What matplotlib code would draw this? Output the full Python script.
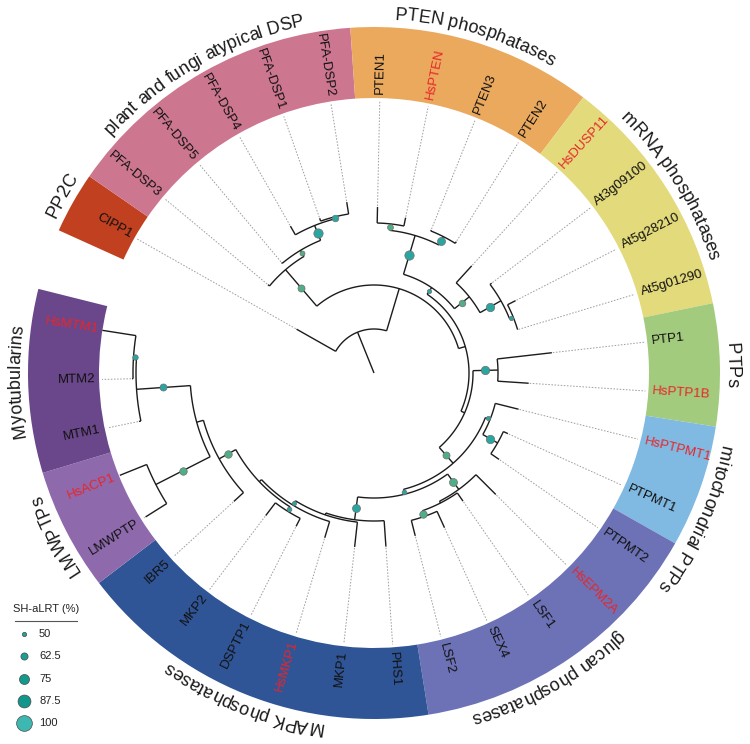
import numpy as np
import matplotlib
matplotlib.use("Agg")
import matplotlib.pyplot as plt
from matplotlib.font_manager import FontProperties, findfont, get_font

# ---------------- data ----------------
leaf_names = ["CIPP1", "PFA-DSP3", "PFA-DSP5", "PFA-DSP4", "PFA-DSP1", "PFA-DSP2",
              "PTEN1", "HsPTEN", "PTEN3", "PTEN2",
              "HsDUSP11", "At3g09100", "At5g28210", "At5g01290",
              "PTP1", "HsPTP1B", "HsPTPMT1", "PTPMT1", "PTPMT2",
              "HsEPM2A", "LSF1", "SEX4", "LSF2",
              "PHS1", "MKP1", "HsMKP1", "DSPTP1", "MKP2", "IBR5",
              "LMWPTP", "HsACP1", "MTM1", "MTM2", "HsMTM1"]
human_leaves = ["HsPTEN", "HsDUSP11", "HsPTP1B", "HsPTPMT1", "HsEPM2A",
                "HsMKP1", "HsACP1", "HsMTM1"]
leaf_depth = [89, 138, 144, 169, 164, 173,
              166, 158.5, 154, 155,
              145, 148, 159, 150,
              179, 155, 149, 147, 152,
              172, 156, 170, 168,
              174, 175, 172, 172, 179, 190,
              270, 274, 240, 242, 275]

node_names = ["root", "B", "P", "Q", "R", "S", "N2", "T", "PTEN", "V1", "V2",
              "W", "X", "Y", "N1", "U", "MG", "M1", "M2", "GK", "G1", "Gy", "G3",
              "K1", "K2", "K3", "K5", "K4", "IL", "ML", "LMW", "Mt1", "Mt2"]
node_children = [["CIPP1", "B"], ["P", "N2"], ["PFA-DSP3", "Q"], ["PFA-DSP5", "R"],
                 ["PFA-DSP4", "S"], ["PFA-DSP1", "PFA-DSP2"], ["T", "N1"],
                 ["PTEN", "W"], ["V1", "V2"], ["PTEN1", "HsPTEN"], ["PTEN3", "PTEN2"],
                 ["HsDUSP11", "X"], ["At3g09100", "Y"], ["At5g28210", "At5g01290"],
                 ["U", "MG"], ["PTP1", "HsPTP1B"], ["M1", "GK"], ["HsPTPMT1", "M2"],
                 ["PTPMT1", "PTPMT2"], ["G1", "K1"], ["HsEPM2A", "Gy"], ["LSF1", "G3"],
                 ["SEX4", "LSF2"], ["PHS1", "K2"], ["MKP1", "K3"], ["HsMKP1", "K5"],
                 ["K4", "IL"], ["DSPTP1", "MKP2"], ["ML", "IBR5"], ["Mt1", "LMW"],
                 ["LMWPTP", "HsACP1"], ["MTM1", "Mt2"], ["MTM2", "HsMTM1"]]
node_depth = [44, 88, 136, 143, 159, 161, 95, 103, 143.5, 150, 153,
              122, 146, 150, 99, 124, 120, 125, 142, 125, 144, 146, 152,
              148, 150, 155, 158, 163, 177, 184, 245, 238, 241]
node_shalrt = [None, None, 62, 53, 72, 60, None, 50, 72, 57, 66,
               60, 68, 50, None, 68, 62, 50, 68, 52, 66, None, 64,
               66, None, 50, None, 52, 64, None, 64, 62, 55]
node_dot_group = ["", "", "g", "g", "t", "t", "", "t", "t", "g", "t",
                  "g", "t", "t", "", "t", "g", "t", "t", "t", "g", "", "g",
                  "t", "", "t", "", "t", "g", "", "g", "t", "t"]
dot_colors = {"g": "#4fae86", "t": "#2aa6a0"}

clade_names = ["PP2C", "plant and fungi atypical DSP", "PTEN phosphatases",
               "mRNA phosphatases", "PTPs", "mitochondrial PTPs",
               "glucan phosphatases", "MAPK phosphatases", "LMWPTPs", "Myotubularins"]
band_first = [0, 1, 6, 10, 14, 16, 18, 23, 29, 31]
band_last = [0, 5, 9, 13, 15, 17, 22, 28, 30, 33]
label_first = [0, 1, 6, 10, 14, 16, 19, 23, 29, 31]
label_last = [0, 5, 9, 13, 15, 18, 22, 28, 30, 33]
clade_colors = ["#c0401f", "#cd7690", "#eaa95d", "#e3da7b", "#a3cb7e",
                "#80b9e1", "#6c72b5", "#2f5597", "#8e6aad", "#6a478a"]

legend_values = [50, 62.5, 75, 87.5, 100]
legend_colors = ["#23a394", "#1b9f90", "#149a8c", "#10968a", "#3db8b0"]

# ---------------- geometry ----------------
n_slots = 35
first_angle = np.radians(150.5)
slot = 2 * np.pi / n_slots
R_BAND_IN, R_BAND_OUT = 275, 346
R_LABEL = 279
R_DOT_END = 272
R_CLADE = 354
CLADE_FS = 13

plt.rcParams["font.family"] = ["Liberation Sans", "DejaVu Sans"]
fig = plt.figure(figsize=(7.5, 7.44), dpi=100)
RMAX = 372
cx, cy = 374, 373  # pixel centre (from top-left)
ax = fig.add_axes([(cx - RMAX) / 750, (744 - cy - RMAX) / 744, 2 * RMAX / 750, 2 * RMAX / 744],
                  projection="polar")
ax.set_ylim(0, RMAX)
ax.axis("off")

angle = {}
depth = {}
for i, nm in enumerate(leaf_names):
    angle[nm] = first_angle - i * slot
    depth[nm] = leaf_depth[i]
children = dict(zip(node_names, node_children))
for nm, d in zip(node_names, node_depth):
    depth[nm] = d


def node_angle(nm):
    if nm in angle:
        return angle[nm]
    a = np.mean([node_angle(c) for c in children[nm]])
    angle[nm] = a
    return a


node_angle("root")
parent = {}
for nm, ch in children.items():
    for c in ch:
        parent[c] = nm

LC = "#1c1c1c"
LW = 1.0
ax.plot([angle["root"], angle["root"]], [0, depth["root"]], color=LC, lw=LW, solid_capstyle="butt")
for nm, ch in children.items():
    angs = [angle[c] for c in ch]
    th = np.linspace(min(angs), max(angs), 80)
    ax.plot(th, np.full_like(th, depth[nm]), color=LC, lw=LW, solid_capstyle="butt")
    for c in ch:
        ax.plot([angle[c], angle[c]], [depth[nm], depth[c]], color=LC, lw=LW,
                solid_capstyle="butt")

for nm in leaf_names:
    if depth[nm] < R_DOT_END:
        ax.plot([angle[nm], angle[nm]], [depth[nm] + 1, R_DOT_END], color="#9e9e9e",
                lw=0.7, linestyle=(0, (1.6, 1.6)))


def dot_size(v):
    dpx = 4.3 + (v - 50) * 0.228
    return (dpx * 0.72) ** 2


for nm, v, g in zip(node_names, node_shalrt, node_dot_group):
    if v is None:
        continue
    r = (depth[parent[nm]] + depth[nm]) / 2
    ax.scatter([angle[nm]], [r], s=dot_size(v), color=dot_colors[g], edgecolor="#6f6f6f",
               linewidth=0.5, zorder=5)

for f, l, col in zip(band_first, band_last, clade_colors):
    a_hi = first_angle - f * slot + slot / 2
    a_lo = first_angle - l * slot - slot / 2
    ax.bar((a_hi + a_lo) / 2, R_BAND_OUT - R_BAND_IN, width=a_hi - a_lo, bottom=R_BAND_IN,
           color=col, edgecolor="none", linewidth=0, zorder=1)

for nm in leaf_names:
    a = angle[nm]
    deg = np.degrees(a)
    col = "#e8252a" if nm in human_leaves else "#111111"
    if np.cos(a) >= 0:
        rot, ha = deg, "left"
    else:
        rot, ha = deg - 180, "right"
    ax.text(a, R_LABEL, nm, rotation=rot, rotation_mode="anchor", ha=ha, va="center",
            fontsize=9.5, color=col, zorder=6)

# clade labels: each character placed along the arc using font advances
fp = FontProperties(family="Liberation Sans", size=CLADE_FS)
ftfont = get_font(findfont(fp))
ftfont.set_size(CLADE_FS, 100)
try:
    from matplotlib.ft2font import LoadFlags
    NOHINT = LoadFlags.NO_HINTING
except Exception:
    from matplotlib.ft2font import LOAD_NO_HINTING as NOHINT


def glyph_metrics(c):
    g = ftfont.load_char(ord(c), flags=NOHINT)
    return g.linearHoriAdvance / 65536.0, g.horiBearingX / 64.0, g.width / 64.0


for name, f, l in zip(clade_names, label_first, label_last):
    center = first_angle - (f + l) / 2 * slot
    mets = [glyph_metrics(c) for c in name]
    total = sum(m[0] for m in mets)
    start = center + total / 2 / R_CLADE
    pen = 0.0
    for c, (adv, bx, w) in zip(name, mets):
        if c != " ":
            mid = start - (pen + bx + w / 2) / R_CLADE
            ax.text(mid, R_CLADE, c, rotation=np.degrees(mid) - 90, rotation_mode="anchor",
                    ha="center", va="baseline", fontproperties=fp, color="#1a1a1a")
        pen += adv

# legend
lax = fig.add_axes([0, 0, 1, 1])
lax.set_xlim(0, 750)
lax.set_ylim(744, 0)
lax.axis("off")
lax.text(13, 612, "SH-aLRT (%)", fontsize=8, ha="left", va="baseline", color="#222222")
lax.plot([15, 77], [621, 621], color="#555555", lw=0.8)
for i, (v, c) in enumerate(zip(legend_values, legend_colors)):
    y = 634 + i * 22.3
    lax.scatter([24], [y], s=dot_size(v), color=c, edgecolor="#4a4a4a", linewidth=0.5)
    lax.text(39, y, f"{v:g}", fontsize=8, ha="left", va="center", color="#222222")

fig.savefig("out.png", dpi=100)
